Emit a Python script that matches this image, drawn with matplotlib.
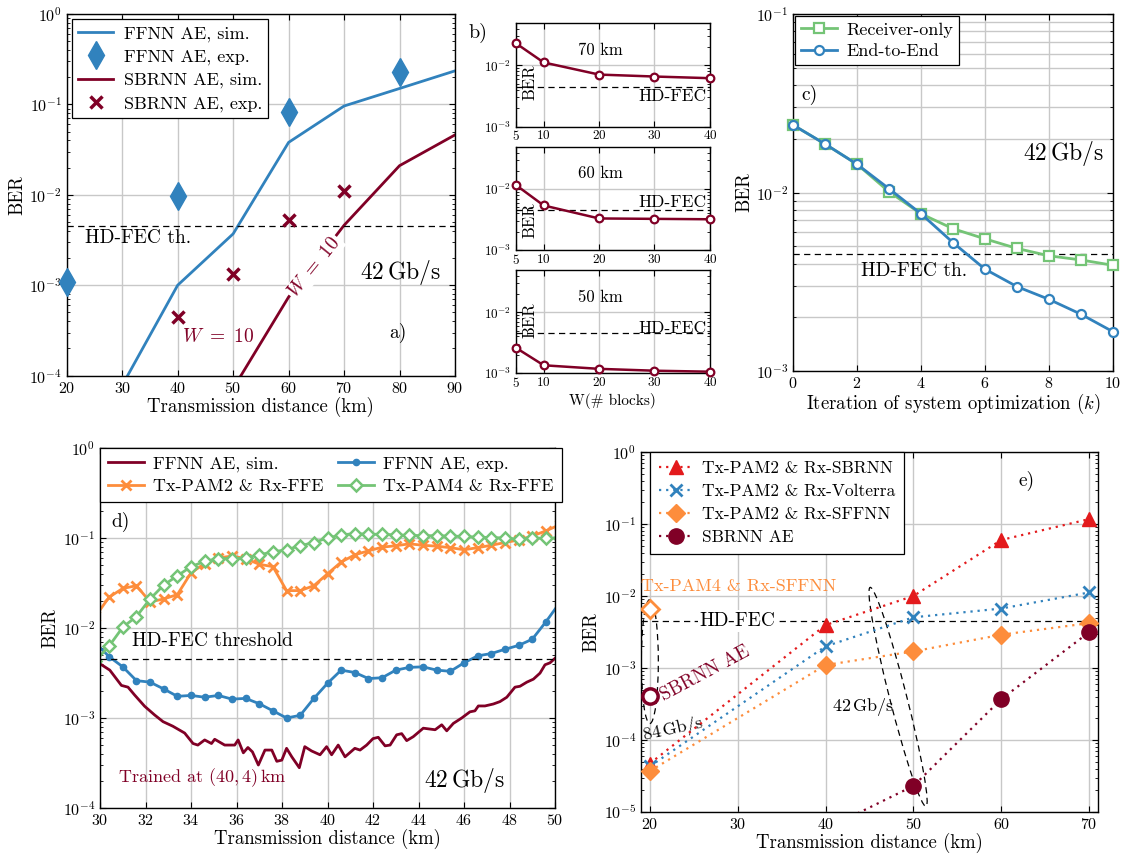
import numpy as np
import matplotlib
matplotlib.use("Agg")
import matplotlib.pyplot as plt
from matplotlib.patches import Ellipse
from matplotlib.transforms import ScaledTranslation
from matplotlib.ticker import LogLocator, NullFormatter

plt.rcParams['font.family'] = ['cmr10', 'DejaVu Serif']
plt.rcParams['mathtext.fontset'] = 'cm'
plt.rcParams['axes.formatter.use_mathtext'] = True
plt.rcParams['axes.unicode_minus'] = False

BLUE = '#3182bd'
DRED = '#800026'
GREEN = '#74c476'
ORANGE = '#fd8d3c'
RED = '#e31a1c'
GRID = '#c8c8c8'
HDFEC = 4.5e-3

# ---- panel a data
dist_a = [20, 30, 40, 50, 60, 70, 80, 90]
ffnn_sim_x = [30, 40, 50, 60, 70, 80, 90]
ffnn_sim = [7.8e-5, 1.0e-3, 3.7e-3, 3.8e-2, 9.6e-2, 0.15, 0.235]
ffnn_exp_x = [20, 40, 60, 80]
ffnn_exp = [1.08e-3, 9.7e-3, 8.2e-2, 0.23]
sbrnn_sim_x = [50, 60, 70, 80, 90]
sbrnn_sim = [7.2e-5, 7.4e-4, 4.6e-3, 2.1e-2, 4.6e-2]
sbrnn_exp_x = [40, 50, 60, 70]
sbrnn_exp = [4.5e-4, 1.34e-3, 5.3e-3, 1.1e-2]

# ---- panel b data
W_blocks = [5, 10, 20, 30, 40]
ber_70km = [2.3e-2, 1.12e-2, 7.1e-3, 6.6e-3, 6.2e-3]
ber_60km = [1.17e-2, 5.4e-3, 3.3e-3, 3.25e-3, 3.2e-3]
ber_50km = [2.6e-3, 1.34e-3, 1.17e-3, 1.09e-3, 1.05e-3]

# ---- panel c data
iters = [0, 1, 2, 3, 4, 5, 6, 7, 8, 9, 10]
rx_only = [2.39e-2, 1.87e-2, 1.44e-2, 1.01e-2, 7.6e-3, 6.27e-3, 5.5e-3, 4.86e-3, 4.42e-3, 4.19e-3, 3.91e-3]
end2end = [2.39e-2, 1.87e-2, 1.44e-2, 1.05e-2, 7.6e-3, 5.24e-3, 3.72e-3, 2.97e-3, 2.52e-3, 2.08e-3, 1.66e-3]

# ---- panel d data
dist_d = [29.8, 30.4, 31.0, 31.6, 32.2, 32.8, 33.4, 34.0, 34.6, 35.2, 35.8, 36.4,
          37.0, 37.6, 38.2, 38.8, 39.4, 40.0, 40.6, 41.2, 41.8, 42.4, 43.0, 43.6,
          44.2, 44.8, 45.4, 46.0, 46.6, 47.2, 47.8, 48.4, 49.0, 49.6, 50.2]
ffnn_exp_d = [6.8e-3, 4.8e-3, 3.7e-3, 2.6e-3, 2.5e-3, 2.1e-3, 1.74e-3, 1.78e-3, 1.7e-3,
              1.78e-3, 1.62e-3, 1.65e-3, 1.44e-3, 1.2e-3, 1.0e-3, 1.07e-3, 1.65e-3,
              2.43e-3, 3.4e-3, 3.2e-3, 2.74e-3, 2.8e-3, 3.4e-3, 3.65e-3, 3.7e-3, 3.4e-3,
              3.3e-3, 4.1e-3, 4.9e-3, 5.2e-3, 5.8e-3, 6.4e-3, 7.5e-3, 1.17e-2, 1.9e-2]
pam2_ffe = [1.35e-2, 2.2e-2, 2.75e-2, 2.95e-2, 1.95e-2, 2.1e-2, 2.35e-2, 4.1e-2, 5.2e-2,
            6.0e-2, 6.3e-2, 5.9e-2, 5.1e-2, 4.8e-2, 2.6e-2, 2.6e-2, 2.95e-2, 4.0e-2,
            5.4e-2, 6.5e-2, 7.2e-2, 7.9e-2, 8.2e-2, 8.6e-2, 8.3e-2, 8.1e-2, 7.8e-2,
            7.4e-2, 7.8e-2, 8.3e-2, 8.9e-2, 9.5e-2, 0.105, 0.12, 0.14]
pam4_ffe = [4.3e-3, 6.3e-3, 1.02e-2, 1.34e-2, 2.1e-2, 3.0e-2, 3.8e-2, 4.8e-2, 5.5e-2,
            5.9e-2, 5.9e-2, 6.0e-2, 6.5e-2, 7.0e-2, 7.4e-2, 8.2e-2, 8.9e-2, 0.1, 0.108,
            0.112, 0.11, 0.11, 0.108, 0.107, 0.106, 0.106, 0.105, 0.104, 0.102, 0.101,
            0.1, 0.097, 0.099, 0.1, 0.1]
sim_d_x = [30.0, 30.43, 30.94, 31.23, 31.52, 31.96, 32.4, 32.77, 33.2, 33.72, 34.09, 34.3,
           34.6, 34.9, 35.04, 35.48, 35.92, 36.07, 36.3, 36.5, 36.7, 36.96, 37.25, 37.55,
           37.77, 37.99, 38.2, 38.43, 38.76, 39.0, 39.3, 39.67, 39.96, 40.18, 40.47, 40.77,
           41.2, 41.43, 41.72, 42.0, 42.23, 42.53, 42.75, 43.04, 43.26, 43.48, 43.77, 44.21,
           44.73, 45.02, 45.24, 45.53, 45.9, 46.26, 46.48, 46.63, 46.92, 47.29, 47.58, 47.88,
           48.24, 48.46, 48.76, 49.05, 49.34, 49.56, 49.78, 50.0]
sim_d = [4.0e-3, 3.4e-3, 2.3e-3, 2.2e-3, 1.8e-3, 1.35e-3, 1.08e-3, 9.1e-4, 8.1e-4, 6.8e-4,
         5.2e-4, 5.0e-4, 5.7e-4, 5.2e-4, 5.8e-4, 5.0e-4, 5.0e-4, 5.7e-4, 4.1e-4, 4.7e-4,
         4.2e-4, 3.0e-4, 4.4e-4, 4.4e-4, 3.3e-4, 3.4e-4, 4.6e-4, 3.7e-4, 2.8e-4, 4.8e-4,
         4.3e-4, 3.9e-4, 4.8e-4, 3.9e-4, 5.0e-4, 3.7e-4, 4.6e-4, 4.4e-4, 5.0e-4, 5.9e-4,
         6.1e-4, 4.9e-4, 5.0e-4, 6.5e-4, 6.7e-4, 5.6e-4, 6.2e-4, 7.7e-4, 7.4e-4, 8.4e-4,
         7.2e-4, 8.7e-4, 1.0e-3, 1.17e-3, 1.2e-3, 1.36e-3, 1.36e-3, 1.43e-3, 1.52e-3,
         1.7e-3, 2.2e-3, 2.25e-3, 2.5e-3, 2.7e-3, 3.15e-3, 3.9e-3, 4.1e-3, 4.6e-3]

# ---- panel e data
dist_e = [20, 40, 50, 60, 70]
e_sbrnn = [4.7e-5, 3.95e-3, 1.0e-2, 6.0e-2, 0.117]
e_volterra = [4.3e-5, 2.0e-3, 5.06e-3, 6.7e-3, 1.12e-2]
e_sffnn = [3.7e-5, 1.1e-3, 1.7e-3, 2.9e-3, 4.2e-3]
e_ae_x = [40, 50, 60, 70]
e_ae = [5.8e-6, 2.3e-5, 3.7e-4, 3.15e-3]
pam4_sffnn_84 = 6.6e-3
sbrnn_ae_84 = 4.1e-4


def style(ax, fs=11.5):
    ax.set_yscale('log')
    ax.tick_params(which='both', direction='in', top=True, right=True, labelsize=fs)
    ax.tick_params(which='major', length=4, width=0.8)
    ax.tick_params(which='minor', length=2.5, width=0.6)
    ax.yaxis.set_minor_locator(LogLocator(base=10, subs=np.arange(2, 10), numticks=20))
    ax.yaxis.set_minor_formatter(NullFormatter())
    ax.grid(True, which='major', color=GRID, lw=1.0)
    ax.set_axisbelow(True)
    for s in ax.spines.values():
        s.set_linewidth(1.0)


def boxed_legend(ax, **kw):
    leg = ax.legend(fancybox=False, edgecolor='k', framealpha=1, **kw)
    leg.get_frame().set_linewidth(0.9)
    return leg


fig = plt.figure(figsize=(11.29, 8.59), dpi=100)

# ================= a)
ax = fig.add_axes([0.0591, 0.5627, 0.3439, 0.4210])
style(ax)
l1, = ax.plot(ffnn_sim_x, ffnn_sim, color=BLUE, lw=2.0, label='FFNN AE, sim.')
l2, = ax.plot(ffnn_exp_x, ffnn_exp, ls='none', marker='d', ms=14, color=BLUE,
              clip_on=False, zorder=5, label='FFNN AE, exp.')
l3, = ax.plot(sbrnn_sim_x, sbrnn_sim, color=DRED, lw=2.0, label='SBRNN AE, sim.')
l4, = ax.plot(sbrnn_exp_x, sbrnn_exp, ls='none', marker='x', ms=9, mew=2.5, color=DRED,
              zorder=5, label='SBRNN AE, exp.')
ax.axhline(HDFEC, color='k', lw=0.9, ls=(0, (5, 3.5)))
ax.text(23.3, 3.3e-3, 'HD-FEC th.', fontsize=14, va='center', ha='left')
ax.text(80.2, 1.4e-3, r'$42\,\mathrm{Gb/s}$', fontsize=17, ha='center', va='center')
ax.text(79.8, 3.0e-4, 'a)', fontsize=14, ha='center', va='center')
ax.text(47.3, 2.66e-4, r'$W\ =\ 10$', fontsize=14, color=DRED, ha='center', va='center')
ax.text(64.7, 1.58e-3, r'$W\ =\ 10$', fontsize=14, color=DRED, ha='center', va='center',
        rotation=51, bbox=dict(facecolor='white', edgecolor='none', pad=1.0))
ax.set_xlim(20, 90)
ax.set_ylim(1e-4, 1)
ax.set_xticks(dist_a)
ax.set_xlabel('Transmission distance (km)', fontsize=13.5, labelpad=1)
ax.set_ylabel('BER', fontsize=13.5, labelpad=2)
boxed_legend(ax, handles=[l1, l2, l3, l4], loc='upper left', fontsize=13,
             borderaxespad=0.3, handlelength=1.9, borderpad=0.35, labelspacing=0.4,
             handletextpad=0.6)

# ================= b)
b_rects = [[0.4570, 0.8525, 0.1718, 0.1211],
           [0.4570, 0.7090, 0.1718, 0.1202],
           [0.4570, 0.5658, 0.1718, 0.1199]]
b_sets = [(ber_70km, '70 km', 3.1e-3, 0.43),
          (ber_60km, '60 km', 6.1e-3, 0.29),
          (ber_50km, '50 km', 5.5e-3, 0.51)]
for rect, (vals, lab, fec_y, ber_y) in zip(b_rects, b_sets):
    bx = fig.add_axes(rect)
    style(bx, fs=9.5)
    bx.plot(W_blocks, vals, color=DRED, lw=1.8, marker='o', ms=5.5, mfc='white',
            mew=1.6, clip_on=False, zorder=5)
    bx.axhline(HDFEC, color='k', lw=0.9, ls=(0, (5, 3.5)))
    bx.text(39.3, fec_y, 'HD-FEC', fontsize=12.5, ha='right', va='center')
    bx.text(20.2, 1.8e-2, lab, fontsize=12, ha='center', va='center')
    bx.text(0.07, ber_y, 'BER', fontsize=12, rotation=90, ha='center', va='center',
            transform=bx.transAxes)
    bx.set_xlim(5, 40)
    bx.set_ylim(1e-3, 5e-2)
    bx.set_xticks(W_blocks)
    bx.set_yticks([1e-3, 1e-2])
    bx.tick_params(axis='x', pad=2)
bx.set_xlabel('W(# blocks)', fontsize=11, labelpad=2)
fig.text(0.4234, 0.9616, 'b)', fontsize=14.5, ha='center', va='center')

# ================= c)
cx = fig.add_axes([0.7024, 0.5681, 0.2834, 0.4156])
style(cx)
cx.grid(True, which='minor', axis='y', color=GRID, lw=1.0)
cx.plot(iters, rx_only, color=GREEN, lw=2.0, marker='s', ms=6.5, mfc='white', mew=1.6,
        clip_on=False, zorder=4, label='Receiver-only')
cx.plot(iters, end2end, color=BLUE, lw=2.0, marker='o', ms=6.5, mfc='white', mew=1.6,
        clip_on=False, zorder=5, label='End-to-End')
cx.axhline(HDFEC, color='k', lw=0.9, ls=(0, (5, 3.5)))
cx.text(3.77, 3.65e-3, 'HD-FEC th.', fontsize=14, ha='center', va='center')
cx.text(8.44, 1.66e-2, r'$42\,\mathrm{Gb/s}$', fontsize=17, ha='center', va='center')
cx.text(0.5, 3.5e-2, 'c)', fontsize=14, ha='center', va='center')
cx.set_xlim(0, 10)
cx.set_ylim(1e-3, 1e-1)
cx.set_xticks([0, 2, 4, 6, 8, 10])
cx.set_xlabel(r'Iteration of system optimization ($k$)', fontsize=13.5, labelpad=1)
cx.set_ylabel('BER', fontsize=13.5, labelpad=2)
boxed_legend(cx, loc='upper left', fontsize=13, borderaxespad=0.1, handlelength=2.0,
             borderpad=0.35, labelspacing=0.3, handletextpad=0.5)

# ================= d)
dx = fig.add_axes([0.0886, 0.0594, 0.4030, 0.4191])
style(dx)
d1, = dx.plot(sim_d_x, sim_d, color=DRED, lw=2.0, label='FFNN AE, sim.')
d2, = dx.plot(dist_d, ffnn_exp_d, color=BLUE, lw=2.0, marker='o', ms=4.5,
              label='FFNN AE, exp.')
d3, = dx.plot(dist_d, pam2_ffe, color=ORANGE, lw=2.0, marker='x', ms=7, mew=2.0,
              label='Tx-PAM2 & Rx-FFE')
d4, = dx.plot(dist_d, pam4_ffe, color=GREEN, lw=2.0, marker='D', ms=6.5, mfc='white',
              mew=1.8, label='Tx-PAM4 & Rx-FFE')
dx.axhline(HDFEC, color='k', lw=0.9, ls=(0, (5, 3.5)))
dx.text(31.4, 7.1e-3, 'HD-FEC threshold', fontsize=14, ha='left', va='center')
dx.text(30.8, 2.2e-4, r'Trained at $(40,4)\,$km', fontsize=13, color=DRED,
        ha='left', va='center')
dx.text(46.0, 2.0e-4, r'$42\,\mathrm{Gb/s}$', fontsize=17, ha='center', va='center')
dx.text(30.92, 0.15, 'd)', fontsize=14, ha='center', va='center')
dx.set_xlim(30, 50)
dx.set_ylim(1e-4, 1)
dx.set_xticks(np.arange(30, 51, 2))
dx.set_xlabel('Transmission distance (km)', fontsize=13.5, labelpad=1)
dx.set_ylabel('BER', fontsize=13.5, labelpad=2)
# row-wise order as in the original: (sim, exp) / (PAM2, PAM4)
boxed_legend(dx, handles=[d1, d3, d2, d4], ncol=2, loc='upper left', fontsize=13,
             borderaxespad=0.0, handlelength=2.0, borderpad=0.45, labelspacing=0.35,
             handletextpad=0.5, columnspacing=0.8)

# ================= e)
ex = fig.add_axes([0.5678, 0.0547, 0.4047, 0.4191])
style(ex)
dots = (0, (1, 2.2))
ex.plot(dist_e, e_sbrnn, color=RED, lw=1.6, ls=dots, marker='^', ms=10,
        clip_on=False, zorder=5, label='Tx-PAM2 & Rx-SBRNN')
ex.plot(dist_e, e_volterra, color=BLUE, lw=1.6, ls=dots, marker='x', ms=8, mew=2.0,
        clip_on=False, zorder=5, label='Tx-PAM2 & Rx-Volterra')
ex.plot(dist_e, e_sffnn, color=ORANGE, lw=1.6, ls=dots, marker='D', ms=9,
        clip_on=False, zorder=5, label='Tx-PAM2 & Rx-SFFNN')
ex.plot(e_ae_x, e_ae, color=DRED, lw=1.6, ls=dots, marker='o', ms=11,
        zorder=5, label='SBRNN AE')
ex.plot([20], [pam4_sffnn_84], ls='none', marker='D', ms=9, mfc='white', mec=ORANGE,
        mew=2.0, zorder=6)
ex.plot([20], [sbrnn_ae_84], ls='none', marker='o', ms=11, mfc='white', mec=DRED,
        mew=2.5, zorder=6)
ex.plot([19, 70], [HDFEC, HDFEC], color='k', lw=0.9, ls=(0, (5, 3.5)), zorder=3)
ex.text(30.0, HDFEC, 'HD-FEC', fontsize=14, ha='center', va='center', zorder=4,
        bbox=dict(facecolor='white', edgecolor='none', pad=1.5))
ex.text(19.05, 1.35e-2, 'Tx-PAM4 & Rx-SFFNN', fontsize=13, color=ORANGE, ha='left',
        va='center', clip_on=False)
ex.text(26.3, 8.5e-4, 'SBRNN AE', fontsize=13.5, color=DRED, rotation=28,
        ha='center', va='center')
ex.text(22.65, 1.38e-4, r'$84\,\mathrm{Gb/s}$', fontsize=13, rotation=12,
        ha='center', va='center')
ex.text(44.26, 2.88e-4, r'$42\,\mathrm{Gb/s}$', fontsize=13, ha='center', va='center')
ex.text(62.9, 0.39, 'e)', fontsize=14, ha='center', va='center')
# dashed ellipses grouping the 84 Gb/s and 42 Gb/s results (sizes in inches)
for (cxe, cye, w, h, ang) in [(20.0, 1.23e-3, 0.17, 1.24, 0.0),
                              (48.25, 3.97e-4, 2.26, 0.17, -75.7)]:
    el = Ellipse((0, 0), w, h, angle=ang, fill=False, ec='k', lw=0.9,
                 ls=(0, (5, 3.5)),
                 transform=fig.dpi_scale_trans + ScaledTranslation(cxe, cye, ex.transData))
    ex.add_patch(el)
ex.set_xlim(19, 71)
ex.set_ylim(1e-5, 1)
ex.set_xticks([20, 30, 40, 50, 60, 70])
ex.set_xlabel('Transmission distance (km)', fontsize=13.5, labelpad=1)
ex.set_ylabel('BER', fontsize=13.5, labelpad=2)
boxed_legend(ex, loc='upper left', fontsize=12.5, borderaxespad=0.0,
             bbox_to_anchor=(0.02, 1.0), handlelength=2.0, borderpad=0.5,
             labelspacing=0.45, handletextpad=0.5)

fig.savefig('out.png', dpi=100)
